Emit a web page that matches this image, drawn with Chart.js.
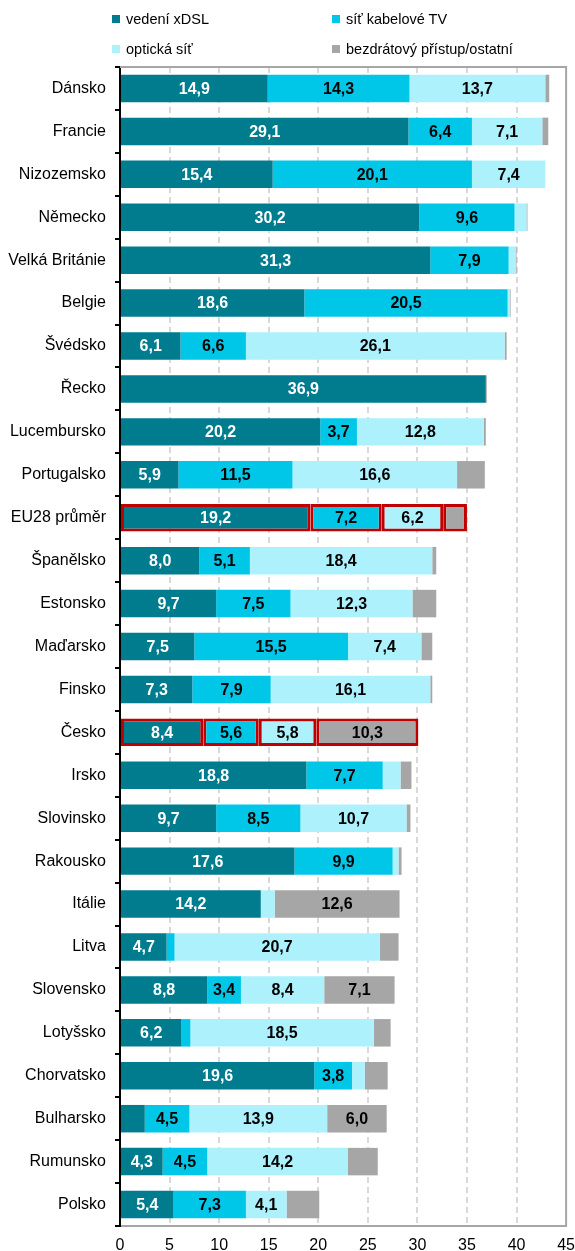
<!DOCTYPE html>
<html lang="cs">
<head>
    <meta charset="UTF-8">
    <title>Přístup k internetu podle technologie</title>
    <style>
        body { margin: 0; background: #fff; font-family: "Liberation Sans", Arial, sans-serif; }
        .wrap { position: relative; width: 575px; height: 1251px; }
        .legend-item { position: absolute; font-size: 14.5px; color: #000; line-height: 1; white-space: nowrap; }
        .legend-item i { position: absolute; left: -14px; top: 3px; width: 8px; height: 8px; }
    </style>
    <script src="https://cdn.jsdelivr.net/npm/chart.js@4.4.1/dist/chart.umd.min.js"></script>
</head>
<body>
<div class="wrap">
    <canvas id="accessChart"></canvas>
    <div id="legend"></div>
</div>

<script>
    // Data
    const categories = ['Dánsko', 'Francie', 'Nizozemsko', 'Německo', 'Velká Británie', 'Belgie', 'Švédsko',
        'Řecko', 'Lucembursko', 'Portugalsko', 'EU28 průměr', 'Španělsko', 'Estonsko', 'Maďarsko', 'Finsko',
        'Česko', 'Irsko', 'Slovinsko', 'Rakousko', 'Itálie', 'Litva', 'Slovensko', 'Lotyšsko', 'Chorvatsko',
        'Bulharsko', 'Rumunsko', 'Polsko'];
    const xdsl  = [14.9, 29.1, 15.4, 30.2, 31.3, 18.6, 6.1, 36.9, 20.2, 5.9, 19.2, 8.0, 9.7, 7.5, 7.3, 8.4, 18.8, 9.7, 17.6, 14.2, 4.7, 8.8, 6.2, 19.6, 2.5, 4.3, 5.4];
    const cable = [14.3, 6.4, 20.1, 9.6, 7.9, 20.5, 6.6, 0, 3.7, 11.5, 7.2, 5.1, 7.5, 15.5, 7.9, 5.6, 7.7, 8.5, 9.9, 0, 0.8, 3.4, 0.9, 3.8, 4.5, 4.5, 7.3];
    const fibre = [13.7, 7.1, 7.4, 1.2, 0.7, 0.2, 26.1, 0, 12.8, 16.6, 6.2, 18.4, 12.3, 7.4, 16.1, 5.8, 1.8, 10.7, 0.6, 1.4, 20.7, 8.4, 18.5, 1.3, 13.9, 14.2, 4.1];
    const other = [0.4, 0.6, 0, 0.1, 0.1, 0.1, 0.2, 0.1, 0.2, 2.8, 2.4, 0.4, 2.4, 1.1, 0.2, 10.3, 1.1, 0.4, 0.3, 12.6, 1.9, 7.1, 1.7, 2.3, 6.0, 3.0, 3.3];
    const seriesNames = ['vedení xDSL', 'síť kabelové TV', 'optická síť', 'bezdrátový přístup/ostatní'];
    const highlighted = ['EU28 průměr', 'Česko'];

    const colors = ['#007c8f', '#00c6e8', '#adf1fd', '#a6a6a6'];
    const labelColors = ['#fff', '#000', '#000', '#000'];
    const FONT = '"Liberation Sans", Arial, sans-serif';

    // legend in two columns above the plot
    const legendPos = [[126, 12], [346, 12], [126, 42], [346, 42]];
    const legendEl = document.getElementById('legend');
    seriesNames.forEach(function(name, i) {
        const d = document.createElement('div');
        d.className = 'legend-item';
        d.style.left = legendPos[i][0] + 'px';
        d.style.top = legendPos[i][1] + 'px';
        d.innerHTML = '<i style="background:' + colors[i] + '"></i>' + name;
        legendEl.appendChild(d);
    });

    const isHi = categories.map(c => highlighted.includes(c));

    function makeSet(label, data, i) {
        return {
            label: label,
            data: data,
            backgroundColor: colors[i],
            borderColor: isHi.map(h => h ? '#c00000' : colors[i]),
            borderWidth: isHi.map(h => h ? 3 : 0),
            borderSkipped: false,
            barPercentage: 0.64,
            categoryPercentage: 1.0
        };
    }

    // value labels drawn in the middle of each segment
    const valueLabels = {
        id: 'valueLabels',
        afterDatasetsDraw(chart) {
            const ctx = chart.ctx;
            ctx.save();
            ctx.font = 'bold 16px ' + FONT;
            ctx.textAlign = 'center';
            ctx.textBaseline = 'middle';
            chart.data.datasets.forEach(function(ds, i) {
                chart.getDatasetMeta(i).data.forEach(function(bar, j) {
                    const v = ds.data[j];
                    if (v < 3.4) return;
                    ctx.fillStyle = labelColors[i];
                    ctx.fillText(v.toFixed(1).replace('.', ','), (bar.x + bar.base) / 2, bar.y + 1);
                });
            });
            ctx.restore();
        }
    };

    // grey frame on top and right of the plot
    const plotFrame = {
        id: 'plotFrame',
        afterDraw(chart) {
            const a = chart.chartArea, ctx = chart.ctx;
            ctx.save();
            ctx.strokeStyle = '#a6a6a6';
            ctx.lineWidth = 2;
            ctx.beginPath();
            ctx.moveTo(a.left, a.top);
            ctx.lineTo(a.right, a.top);
            ctx.lineTo(a.right, a.bottom);
            ctx.stroke();
            ctx.restore();
        }
    };

    new Chart(document.getElementById('accessChart'), {
        type: 'bar',
        data: {
            labels: categories,
            datasets: [
                makeSet(seriesNames[0], xdsl, 0),
                makeSet(seriesNames[1], cable, 1),
                makeSet(seriesNames[2], fibre, 2),
                makeSet(seriesNames[3], other, 3)
            ]
        },
        options: {
            indexAxis: 'y',
            responsive: true,
            maintainAspectRatio: false,
            animation: false,
            layout: { padding: { top: 67, right: 0, left: 0, bottom: 0 } },
            scales: {
                x: {
                    stacked: true,
                    min: 0,
                    max: 45,
                    ticks: { stepSize: 5, color: '#000', font: { family: FONT, size: 16 }, padding: 0 },
                    grid: {
                        drawTicks: true,
                        tickLength: 10,
                        tickColor: 'rgba(0,0,0,0)',
                        lineWidth: 2,
                        color: c => (c.tick && (c.tick.value === 0 || c.tick.value === 45)) ? 'rgba(0,0,0,0)' : '#d9d9d9'
                    },
                    border: { color: '#a6a6a6', width: 2, dash: [6, 4] },
                    afterFit: s => { s.height = 25; }
                },
                y: {
                    stacked: true,
                    ticks: { autoSkip: false, color: '#000', font: { family: FONT, size: 16 }, padding: 9 },
                    grid: { drawOnChartArea: false, drawTicks: true, tickLength: 5, color: '#000', lineWidth: 2 },
                    border: { color: '#000', width: 2 },
                    afterFit: s => { s.width = 120; }
                }
            },
            plugins: {
                legend: { display: false },
                tooltip: { enabled: false }
            }
        },
        plugins: [valueLabels, plotFrame]
    });
</script>
</body>
</html>
